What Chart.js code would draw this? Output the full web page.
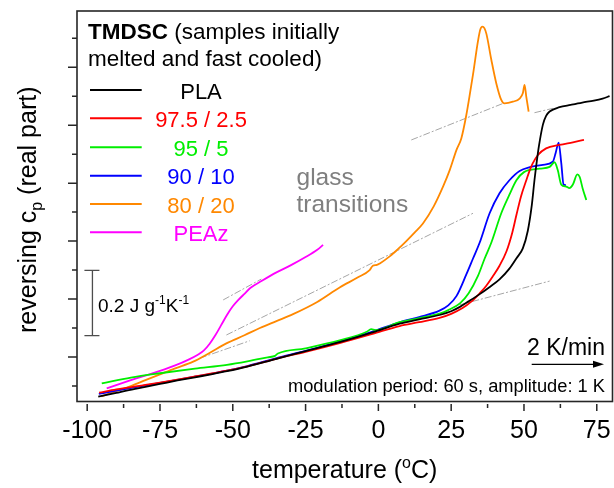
<!DOCTYPE html>
<html>
<head>
<meta charset="utf-8">
<script src="https://cdn.jsdelivr.net/npm/chart.js@4/dist/chart.umd.min.js"></script>
<style>
    html, body { margin: 0; padding: 0; background: #fff; }
    #wrap { width: 614px; height: 488px; }
</style>
</head>
<body>
<div id="wrap"><canvas id="cpChart"></canvas></div>
<script>
// --- DATA (temperature in C, reversing cp in arbitrary offset units) ---

const pla = [
    [-96.2, 0.63], [-90, 0.76], [-86.5, 0.84], [-80, 0.97], [-75, 1.07], [-69, 1.19], [-63, 1.3],
    [-57, 1.41], [-52, 1.51], [-45, 1.67], [-35, 1.94], [-25, 2.2], [-13, 2.52], [-2, 2.85],
    [7.3, 3.15], [14, 3.3], [21, 3.45], [25, 3.58], [28, 3.73], [31, 3.92], [34.8, 4.17],
    [38, 4.4], [41.6, 4.68], [45, 5.05], [47.5, 5.42], [49.6, 5.75], [51.3, 6.35], [52.7, 7.25],
    [53.6, 8.1], [54.4, 8.75], [55.1, 9.26], [56.5, 10.02], [57.6, 10.32], [58.8, 10.47],
    [62.2, 10.62], [66, 10.7], [70, 10.78], [74, 10.85], [77, 10.92], [79.4, 11.0]
]

const pla975 = [
    [-95.9, 0.77], [-90, 0.88], [-80, 1.04], [-75, 1.12], [-63, 1.33], [-52, 1.53], [-45, 1.68],
    [-35, 1.94], [-25, 2.18], [-13, 2.49], [-2, 2.8], [7.3, 3.07], [14, 3.2], [21, 3.35],
    [25, 3.49], [28.9, 3.69], [32, 3.92], [34.8, 4.2], [37, 4.45], [39.2, 4.77], [41.6, 5.15],
    [44, 5.65], [46, 6.3], [47.4, 6.9], [49, 7.55], [50.8, 8.1], [52, 8.45], [53, 8.68],
    [54.8, 8.97], [57.6, 9.2], [62.2, 9.32], [66.8, 9.41], [70.6, 9.49]
]

const pla95 = [
    [-95, 1.09], [-85, 1.29], [-75, 1.44], [-63, 1.6], [-52, 1.73], [-45, 1.85], [-38, 1.99],
    [-35.5, 2.04], [-34.5, 2.12], [-25, 2.3], [-13, 2.58], [-4, 2.87], [-2.5, 2.96], [-1, 2.93],
    [7.3, 3.2], [14, 3.34], [21, 3.5], [24, 3.62], [28, 3.85], [31, 4.2], [34.2, 4.8],
    [36.5, 5.4], [38.8, 5.95], [42.2, 6.96], [45, 7.6], [47.4, 8.1], [50, 8.38], [55.4, 8.5],
    [58.8, 8.56], [60.5, 8.72], [61.6, 8.45], [62.8, 7.95], [64.5, 7.88], [65.6, 7.83],
    [66.8, 7.95], [68.3, 8.3], [69.1, 8.22], [70.2, 7.8], [71.4, 7.42]
]

const pla90 = [
    [-96, 0.73], [-90, 0.84], [-80, 1.02], [-75, 1.11], [-63, 1.32], [-52, 1.53], [-45, 1.69],
    [-35, 1.96], [-25, 2.21], [-13, 2.54], [-2, 2.88], [7.3, 3.2], [14, 3.38], [21, 3.6],
    [24, 3.78], [26.8, 4.1], [30.2, 4.85], [32.5, 5.4], [34.8, 5.95], [38.2, 6.96], [41.6, 7.65],
    [45, 8.1], [48.5, 8.42], [52, 8.55], [56.5, 8.63], [59.9, 8.74], [60.9, 9.05], [61.9, 9.4],
    [62.8, 8.7], [63.6, 7.95], [64.4, 7.93]
]

const pla80 = [
    [-95.1, 0.64], [-90, 0.82], [-85, 1.0], [-80, 1.2], [-75, 1.4], [-70, 1.6], [-63.6, 1.84],
    [-58, 2.14], [-52.2, 2.47], [-46, 2.75], [-40.7, 3.0], [-35, 3.24], [-29.3, 3.48], [-21, 3.9],
    [-13.3, 4.4], [-7, 4.75], [-3, 5.0], [-1.9, 5.15], [-0.5, 5.18], [0.5, 5.23], [4, 5.48],
    [6.7, 5.72], [9.6, 6.0], [12.5, 6.3], [15.3, 6.61], [19, 7.2], [22.2, 7.88], [24.5, 8.45],
    [26.8, 9.14], [28.5, 9.55], [30.2, 10.35], [31.3, 11.0], [32.5, 11.75], [34.2, 12.9],
    [35, 13.3], [35.7, 13.4], [36.4, 13.35], [37.1, 13.15], [38.8, 12.25], [40.5, 11.44],
    [42.2, 10.87], [43.3, 10.75], [46.2, 10.81], [48.5, 10.92], [49.6, 11.1], [50.2, 11.39],
    [50.8, 10.98], [51.6, 10.47]
]

const peaz = [
    [-93.3, 0.92], [-85, 1.2], [-75, 1.52], [-70, 1.7], [-65, 1.92], [-62, 2.08], [-60, 2.22],
    [-58, 2.45], [-56, 2.75], [-54, 3.1], [-52, 3.45], [-50, 3.75], [-48, 3.98], [-46, 4.18],
    [-44, 4.38], [-40, 4.63], [-35, 4.92], [-30, 5.17], [-25, 5.45], [-21, 5.7], [-19, 5.87]
]

// glass transition construction lines
const tanPeazLow = [[-61.3, 1.96], [-44.2, 2.56]]
const tanPeazHigh = [[-53.3, 3.97], [-40.2, 4.69]]
const tanBlendLow = [[-52.2, 2.76], [32.5, 6.96]]
const tanBlendHigh = [[11.3, 9.49], [42.8, 10.75]]
const tanPlaHigh = [[53.6, 10.43], [59.9, 10.58]]
const tanPlaLow = [[27.9, 3.8], [58.8, 4.62]]

const seriesLabels = ['PLA', '97.5 / 2.5', '95 / 5', '90 / 10', '80 / 20', 'PEAz']
const seriesData = [pla, pla975, pla95, pla90, pla80, peaz]
const seriesColors = ['#000000', '#ff0000', '#00ee00', '#0000ff', '#ff8800', '#ff00ff']
const tangents = [tanPeazLow, tanPeazHigh, tanBlendLow, tanBlendHigh, tanPlaHigh, tanPlaLow]

const xMajorTicks = [-100, -75, -50, -25, 0, 25, 50, 75]
const xMinorTicks = [-87.5, -62.5, -37.5, -12.5, 12.5, 37.5, 62.5]
const xTickLabels = ['-100', '-75', '-50', '-25', '0', '25', '50', '75']
const yMajorTicks = [2, 4, 6, 8, 10, 12]
const yMinorTicks = [1, 3, 5, 7, 9, 11, 13]

// 0.2 J/gK scale bar, in axis units
const scaleBarX = -98.2
const scaleBarTop = 4.99
const scaleBarBottom = 2.74

const FONT = "'Liberation Sans', Arial, sans-serif"

function fnt(size, weight){
    return (weight || 'normal') + ' ' + size + 'px ' + FONT
}

// text made of pieces: [text, size, dy, weight]
function drawRuns(ctx, x, y, runs, align){
    let total = 0
    runs.forEach(r => {
        ctx.font = fnt(r[1], r[3])
        total += ctx.measureText(r[0]).width
    })
    let cx = x
    if(align == 'center') cx = x - total / 2
    if(align == 'right') cx = x - total
    ctx.textAlign = 'left'
    runs.forEach(r => {
        ctx.font = fnt(r[1], r[3])
        ctx.fillText(r[0], cx, y + (r[2] || 0))
        cx += ctx.measureText(r[0]).width
    })
}

const decorPlugin = {
    id: 'decor',
    afterDraw(chart){
        const ctx = chart.ctx
        const a = chart.chartArea
        const xs = chart.scales.x
        const ys = chart.scales.y

        ctx.save()
        ctx.textBaseline = 'alphabetic'

        // frame
        ctx.strokeStyle = '#262626'
        ctx.lineWidth = 1.6
        ctx.strokeRect(a.left, a.top, a.right - a.left, a.bottom - a.top)

        // x ticks
        ctx.lineWidth = 1.5
        ctx.beginPath()
        xMajorTicks.forEach(t => {
            const px = xs.getPixelForValue(t)
            ctx.moveTo(px, a.bottom + 2.5)
            ctx.lineTo(px, a.bottom + 9.5)
        })
        xMinorTicks.forEach(t => {
            const px = xs.getPixelForValue(t)
            ctx.moveTo(px, a.bottom + 2.5)
            ctx.lineTo(px, a.bottom + 6.5)
        })
        // y ticks
        yMajorTicks.forEach(t => {
            const py = ys.getPixelForValue(t)
            ctx.moveTo(a.left - 9, py)
            ctx.lineTo(a.left, py)
        })
        yMinorTicks.forEach(t => {
            const py = ys.getPixelForValue(t)
            ctx.moveTo(a.left - 5, py)
            ctx.lineTo(a.left, py)
        })
        ctx.stroke()

        // x tick labels
        ctx.fillStyle = '#000'
        ctx.font = fnt(25)
        ctx.textAlign = 'center'
        xMajorTicks.forEach((t, i) => {
            ctx.fillText(xTickLabels[i], xs.getPixelForValue(t), 438)
        })

        // axis titles
        drawRuns(ctx, 344.7, 478, [['temperature (', 25], ['o', 16, -10], ['C)', 25]], 'center')

        ctx.save()
        ctx.translate(36, 333)
        ctx.rotate(-Math.PI / 2)
        drawRuns(ctx, 0, 0, [['reversing c', 25], ['p', 16, 6], [' (real part)', 25]], 'left')
        ctx.restore()

        // legend title
        drawRuns(ctx, 88, 38.5, [['TMDSC', 22.5, 0, 'bold'], [' (samples initially', 22.5]], 'left')
        drawRuns(ctx, 88, 65.5, [['melted and fast cooled)', 22.5]], 'left')

        // legend entries
        const legendY = [90, 118.3, 147.3, 175.7, 204, 232.3]
        seriesLabels.forEach((label, i) => {
            ctx.strokeStyle = seriesColors[i]
            ctx.lineWidth = 2
            ctx.beginPath()
            ctx.moveTo(90, legendY[i])
            ctx.lineTo(141.7, legendY[i])
            ctx.stroke()
            ctx.fillStyle = seriesColors[i]
            ctx.font = fnt(22)
            ctx.textAlign = 'center'
            ctx.fillText(label, 201, legendY[i] + 8.5)
        })

        // glass transitions note
        ctx.fillStyle = '#7f7f7f'
        ctx.font = fnt(24.5)
        ctx.textAlign = 'left'
        ctx.fillText('glass', 296.5, 184.5)
        ctx.fillText('transitions', 296.5, 212)

        // scale bar
        const bx = xs.getPixelForValue(scaleBarX)
        const bt = ys.getPixelForValue(scaleBarTop)
        const bb = ys.getPixelForValue(scaleBarBottom)
        ctx.strokeStyle = '#4d4d4d'
        ctx.lineWidth = 1.3
        ctx.beginPath()
        ctx.moveTo(bx, bt); ctx.lineTo(bx, bb)
        ctx.moveTo(bx - 8, bt); ctx.lineTo(bx + 7, bt)
        ctx.moveTo(bx - 8, bb); ctx.lineTo(bx + 7, bb)
        ctx.stroke()
        ctx.fillStyle = '#000'
        drawRuns(ctx, 98, 311.7, [['0.2 J g', 19], ['-1', 12, -8], ['K', 19], ['-1', 12, -8]], 'left')

        // heating rate and modulation
        drawRuns(ctx, 605, 355, [['2 K/min', 23]], 'right')
        ctx.strokeStyle = '#000'
        ctx.lineWidth = 1.2
        ctx.beginPath()
        ctx.moveTo(531.7, 364.3)
        ctx.lineTo(596, 364.3)
        ctx.stroke()
        ctx.beginPath()
        ctx.moveTo(604, 364.3)
        ctx.lineTo(593, 360.8)
        ctx.lineTo(593, 367.8)
        ctx.closePath()
        ctx.fill()
        drawRuns(ctx, 605, 391.7, [['modulation period: 60 s, amplitude: 1 K', 18.3]], 'right')

        ctx.restore()
    }
}

function toPoints(arr){
    return arr.map(p => ({ x: p[0], y: p[1] }))
}

function initChart(){
    const ctx = document.getElementById('cpChart').getContext('2d')

    const datasets = seriesData.map((d, i) => ({
        label: seriesLabels[i],
        data: toPoints(d),
        borderColor: seriesColors[i],
        borderWidth: 1.8,
        pointRadius: 0,
        fill: false,
        cubicInterpolationMode: 'monotone'
    }))

    tangents.forEach(t => {
        datasets.push({
            label: '',
            data: toPoints(t),
            borderColor: '#a6a6a6',
            borderWidth: 1,
            borderDash: [7, 2, 2, 2],
            pointRadius: 0,
            fill: false
        })
    })

    new Chart(ctx, {
        type: 'line',
        data: { datasets: datasets },
        options: {
            responsive: true,
            maintainAspectRatio: false,
            animation: false,
            layout: { padding: { left: 77, top: 11, right: 1.5, bottom: 86.5 } },
            plugins: {
                legend: { display: false },
                tooltip: { enabled: false }
            },
            scales: {
                x: { type: 'linear', min: -103.5, max: 80.4, display: false },
                y: { type: 'linear', min: 0.465, max: 13.94, display: false }
            }
        },
        plugins: [decorPlugin]
    })
}

document.addEventListener('DOMContentLoaded', () => {
    initChart()
})
</script>
</body>
</html>
